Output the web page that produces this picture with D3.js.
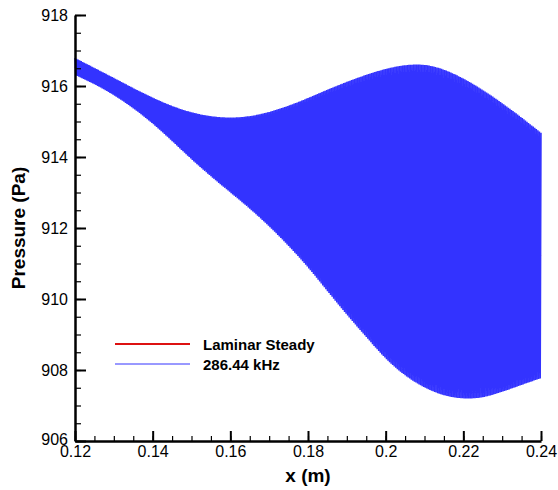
<!DOCTYPE html>
<meta charset="utf-8">
<style>
body { margin: 0; background: #fff; }
text { font-family: "Liberation Sans", Arial, sans-serif; }
.tick text { font-size: 16px; fill: #000; }
.axis path, .axis line { stroke: #000; }
.ttl { font-size: 19px; font-weight: bold; }
.leg { font-size: 15px; font-weight: bold; }
</style>
<svg width="558" height="490"></svg>
<script src="https://d3js.org/d3.v7.min.js"></script>
<script>

// x positions of the envelope readings (m)
var xs = [0.12, 0.125, 0.13, 0.135, 0.14, 0.145, 0.15, 0.155, 0.16, 0.165, 0.17, 0.175,
          0.18, 0.185, 0.19, 0.195, 0.2, 0.205, 0.21, 0.215, 0.22, 0.225, 0.23, 0.235, 0.24];
// upper and lower envelope of the 286.44 kHz signal (Pa)
var upper = [916.79, 916.51, 916.23, 915.94, 915.67, 915.43, 915.25, 915.14, 915.10, 915.14,
             915.26, 915.44, 915.66, 915.90, 916.12, 916.32, 916.49, 916.60, 916.62, 916.48,
             916.22, 915.90, 915.52, 915.12, 914.68];
var lower = [916.31, 916.06, 915.75, 915.38, 914.95, 914.45, 913.93, 913.45, 913.0, 912.55,
             912.05, 911.5, 910.9, 910.22, 909.55, 908.93, 908.3, 907.83, 907.49, 907.27,
             907.18, 907.21, 907.38, 907.58, 907.77];
// laminar steady solution (Pa), hidden under the unsteady band
var steadyX = [0.12, 0.13, 0.14, 0.15, 0.16, 0.17, 0.18, 0.19, 0.2, 0.21, 0.22, 0.23, 0.24];
var steady = [916.55, 916.0, 915.3, 914.58, 914.08, 913.73, 913.3, 912.86, 912.41, 912.07, 911.69, 911.45, 911.2];
var halfCycles = 600;

var xTicks = [0.12, 0.14, 0.16, 0.18, 0.2, 0.22, 0.24];
var yTicks = [906, 908, 910, 912, 914, 916, 918];

var svg = d3.select("svg");
var x = d3.scaleLinear().domain([0.12, 0.24]).range([75, 541]);
var y = d3.scaleLinear().domain([906, 918]).range([441, 15]);

// smooth envelopes through the readings
var t = d3.scaleLinear().domain(d3.extent(xs)).range([0, 1]);
var up = d3.interpolateBasis(upper);
var lo = d3.interpolateBasis(lower);

// signal samples, alternating between the two envelopes
var sig = d3.range(halfCycles + 1).map(function(i) {
  var xv = 0.12 + i * 0.12 / halfCycles;
  return [xv, i % 2 ? lo(t(xv)) : up(t(xv))];
});

var line = d3.line().x(function(d) { return x(d[0]); }).y(function(d) { return y(d[1]); });

svg.append("path")
   .datum(d3.zip(steadyX, steady))
   .attr("d", d3.line().curve(d3.curveMonotoneX).x(function(d) { return x(d[0]); }).y(function(d) { return y(d[1]); }))
   .attr("fill", "none").attr("stroke", "#dd1111").attr("stroke-width", 2);

svg.append("path")
   .datum(sig)
   .attr("d", line)
   .attr("fill", "none").attr("stroke", "#3333ff").attr("stroke-width", 1.5);

// minor ticks
svg.append("g").attr("class", "axis").attr("transform", "translate(0,441)")
   .call(d3.axisBottom(x).tickValues(d3.range(0.12, 0.2401, 0.005)).tickSize(-5).tickFormat(""))
   .call(function(g) { g.select(".domain").remove(); g.selectAll("line").attr("stroke-width", 1.2); });
svg.append("g").attr("class", "axis").attr("transform", "translate(75,0)")
   .call(d3.axisLeft(y).tickValues(d3.range(906, 918.01, 0.5)).tickSize(-6).tickFormat(""))
   .call(function(g) { g.select(".domain").remove(); g.selectAll("line").attr("stroke-width", 1.2); });

// major ticks and labels
svg.append("g").attr("class", "axis").attr("transform", "translate(0,441)")
   .call(d3.axisBottom(x).tickValues(xTicks).tickSize(-10).tickSizeOuter(0).tickPadding(4)
     .tickFormat(function(d) { return String(+d.toFixed(2)); }))
   .call(function(g) {
     g.select(".domain").attr("stroke-width", 2.5);
     g.selectAll("line").attr("stroke-width", 2);
     g.selectAll("text").attr("y", 16).attr("dy", "0");
   });
svg.append("g").attr("class", "axis").attr("transform", "translate(75,0)")
   .call(d3.axisLeft(y).tickValues(yTicks).tickSize(-11).tickSizeOuter(0).tickPadding(7))
   .call(function(g) {
     g.select(".domain").attr("stroke-width", 2.5);
     g.selectAll("line").attr("stroke-width", 2);
     g.selectAll("text").filter(function(d) { return d === 906; }).attr("dy", "0.2em");
   });

svg.append("text").attr("class", "ttl").attr("x", 308).attr("y", 482)
   .attr("text-anchor", "middle").text("x (m)");
svg.append("text").attr("class", "ttl")
   .attr("transform", "translate(25,228) rotate(-90)")
   .attr("text-anchor", "middle").text("Pressure (Pa)");

// legend
var legend = [{name: "Laminar Steady", color: "#dd1111", w: 2.2, y: 344},
              {name: "286.44 kHz", color: "#3333ff", w: 1, y: 364}];
var lg = svg.append("g").selectAll("g").data(legend).enter().append("g");
lg.append("line").attr("x1", 115).attr("x2", 190)
  .attr("y1", function(d) { return d.y; }).attr("y2", function(d) { return d.y; })
  .attr("stroke", function(d) { return d.color; }).attr("stroke-width", function(d) { return d.w; });
lg.append("text").attr("class", "leg").attr("x", 203)
  .attr("y", function(d) { return d.y + 6; }).text(function(d) { return d.name; });
</script>
